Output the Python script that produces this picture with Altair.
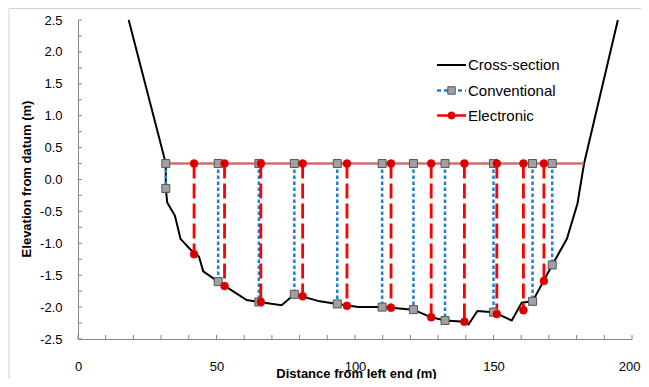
import altair as alt
import pandas as pd

# Cross-section (distance, elevation)
xs_x = [18.3, 31.7, 31.7, 32.2, 35.0, 37.0, 40.4, 43.7, 45.2, 50.6, 60.9, 65.3, 73.5, 78.1,
        87.3, 93.6, 101.2, 109.8, 121.1, 127.5, 132.5, 139.5, 141.0, 144.2, 150.0, 156.6,
        160.2, 164.1, 171.2, 176.5, 180.3, 182.7, 194.9]
xs_y = [2.5, 0.25, -0.14, -0.36, -0.57, -0.93, -1.09, -1.21, -1.44, -1.60, -1.89, -1.92, -1.97, -1.80,
        -1.91, -1.95, -2.00, -2.00, -2.04, -2.16, -2.21, -2.23, -2.27, -2.06, -2.08, -2.21,
        -1.93, -1.91, -1.34, -0.93, -0.38, 0.25, 2.5]

# Water surface level
surface = 0.25
surface_x = [31.7, 182.7]

# Conventional soundings
conv_x = [31.7, 50.6, 65.3, 78.1, 93.6, 109.8, 121.1, 132.5, 150.0, 164.1, 171.2]
conv_bed = [-0.14, -1.60, -1.92, -1.80, -1.95, -2.00, -2.04, -2.21, -2.08, -1.91, -1.34]

# Electronic soundings
elec_x = [41.9, 52.9, 66.0, 81.1, 97.1, 113.0, 127.5, 139.5, 151.2, 160.8, 168.2]
elec_bed = [-1.17, -1.67, -1.92, -1.83, -1.98, -2.01, -2.16, -2.23, -2.11, -2.05, -1.59]

x_ticks = list(range(0, 201, 10))
y_ticks = [-2.5 + 0.25 * i for i in range(21)]
x_labels = [0, 50, 100, 150, 200]
y_labels = [-2.5, -2.0, -1.5, -1.0, -0.5, 0.0, 0.5, 1.0, 1.5, 2.0, 2.5]

W, H = 554, 319
AXIS_GRAY = "#868686"
BLUE = "#1f7fd4"
RED = "#ff0000"
DARK_RED = "#d40000"
SURF = "#cd5c5c"
FONT = "Liberation Sans"

xscale = alt.Scale(domain=[0, 200], nice=False)
yscale = alt.Scale(domain=[-2.5, 2.5], nice=False)

xaxis = alt.Axis(values=x_labels, tickCount=len(x_labels), title="Distance from  left end (m)",
                 titleY=38, titleX=W / 2 + 1, labelPadding=21,
                 labelAlign={"condition": {"test": "datum.value >= 200", "value": "right"}, "value": "center"},
                 labelOffset={"condition": {"test": "datum.value >= 200", "value": 8}, "value": 0})
yaxis = alt.Axis(values=y_labels, tickCount=len(y_labels), format=".1f",
                 labelExpr="replace(datum.label, '\u2212', '-')",
                 title="Elevation from datum (m)",
                 titleAngle=270, titleBaseline="middle", titleAlign="center",
                 titleX=-52, titleY=H / 2 - 1, labelPadding=16)

xs_df = pd.DataFrame({"x": xs_x, "y": xs_y, "i": list(range(len(xs_x)))})
conv_df = pd.DataFrame({"x": conv_x, "bed": conv_bed, "top": [surface] * len(conv_x)})
elec_df = pd.DataFrame({"x": elec_x, "bed": elec_bed, "top": [surface] * len(elec_x)})
surf_df = pd.DataFrame({"x": surface_x, "y": [surface] * len(surface_x)})
xt_df = pd.DataFrame({"t": x_ticks})
yt_df = pd.DataFrame({"t": y_ticks})
one = pd.DataFrame({"a": [0]})

border = alt.Chart(one).mark_rect(fill="white", fillOpacity=0, stroke="#d0d0d0", strokeWidth=1).encode(
    x=alt.value(-69), x2=alt.value(700), y=alt.value(-11.5), y2=alt.value(400))

cross = alt.Chart(xs_df).mark_line(color="black", strokeWidth=2).encode(
    x=alt.X("x:Q", scale=xscale, axis=xaxis),
    y=alt.Y("y:Q", scale=yscale, axis=yaxis),
    order="i:Q")

conv_v = alt.Chart(conv_df).mark_rule(color=BLUE, strokeWidth=2.5, strokeDash=[3.5, 2.5]).encode(
    x="x:Q", y="top:Q", y2="bed:Q")
elec_v = alt.Chart(elec_df).mark_rule(color=RED, strokeWidth=2.8, strokeDash=[15, 5]).encode(
    x="x:Q", y="top:Q", y2="bed:Q")

surf_line = alt.Chart(surf_df).mark_line(color=SURF, strokeWidth=2.5, opacity=0.9).encode(
    x="x:Q", y="y:Q")

def pts(df, ycol, shape, fill, stroke, sw):
    return alt.Chart(df).mark_point(shape=shape, filled=True, size=64, fill=fill,
                                    stroke=stroke, strokeWidth=sw, opacity=1).encode(
        x="x:Q", y=ycol + ":Q")

conv_top = pts(conv_df, "top", "square", "#a0a0a0", "#555555", 1)
conv_bot = pts(conv_df, "bed", "square", "#a0a0a0", "#555555", 1)
elec_top = pts(elec_df, "top", "circle", DARK_RED, RED, 0.5)
elec_bot = pts(elec_df, "bed", "circle", DARK_RED, RED, 0.5)

xt = alt.Chart(xt_df).mark_rule(color=AXIS_GRAY, strokeWidth=1).encode(
    x="t:Q", y=alt.value(H), y2=alt.value(H - 4))
yt = alt.Chart(yt_df).mark_rule(color=AXIS_GRAY, strokeWidth=1).encode(
    y="t:Q", x=alt.value(0), x2=alt.value(4))

# Legend
LX0, LX1, TX = 359, 388, 390
LY = [45, 70.5, 95.5]
leg = []
leg.append(alt.Chart(one).mark_rule(color="black", strokeWidth=2).encode(
    x=alt.value(LX0), x2=alt.value(LX1), y=alt.value(LY[0])))
leg.append(alt.Chart(one).mark_rule(color=BLUE, strokeWidth=2.5, strokeDash=[4, 3]).encode(
    x=alt.value(LX0), x2=alt.value(LX1), y=alt.value(LY[1])))
leg.append(alt.Chart(one).mark_point(shape="square", filled=True, size=55, fill="#a0a0a0",
                                     stroke="#555555", strokeWidth=1, opacity=1).encode(
    x=alt.value((LX0 + LX1) / 2), y=alt.value(LY[1])))
leg.append(alt.Chart(one).mark_rule(color=RED, strokeWidth=2.5).encode(
    x=alt.value(LX0), x2=alt.value(LX1), y=alt.value(LY[2])))
leg.append(alt.Chart(one).mark_point(shape="circle", filled=True, size=55, fill=DARK_RED,
                                     stroke=RED, strokeWidth=0.5, opacity=1).encode(
    x=alt.value((LX0 + LX1) / 2), y=alt.value(LY[2])))
for lab, ly in zip(["Cross-section", "Conventional", "Electronic"], LY):
    leg.append(alt.Chart(one).mark_text(text=lab, align="left", baseline="middle", font=FONT,
                                        fontSize=15, color="black").encode(
        x=alt.value(TX), y=alt.value(ly)))

chart = alt.layer(
    cross, border, conv_v, elec_v, surf_line, xt, yt,
    conv_top, conv_bot, elec_top, elec_bot, *leg
).properties(
    width=W, height=H,
    autosize=alt.AutoSizeParams(type="none"),
    padding={"left": 70, "top": 12, "right": 9, "bottom": 40},
    background="white",
).configure_view(strokeWidth=0).configure_axis(
    ticks=False, grid=False, domainColor=AXIS_GRAY, labelFont=FONT, labelFontSize=13,
    labelColor="black", labelOverlap=False, labelFlush=False,
    titleFont=FONT, titleFontSize=13, titleFontWeight="bold", titleColor="black",
).configure_axisX(titleBaseline="alphabetic")

chart.save("out.html", embed_options={"renderer": "svg", "actions": False})
